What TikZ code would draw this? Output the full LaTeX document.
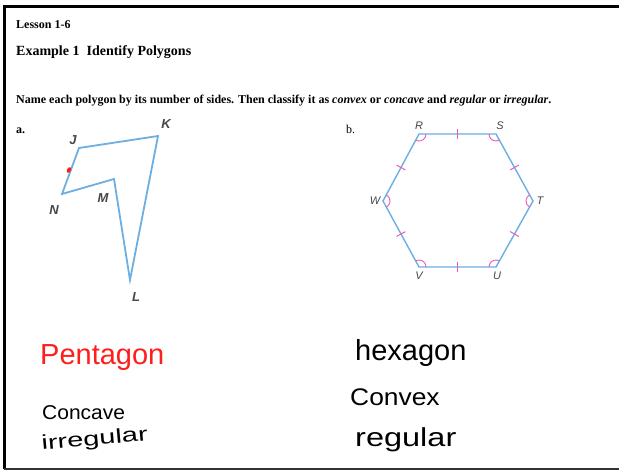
\documentclass[tikz,border=0pt]{standalone}
\usepackage{fontspec}
\usepackage{graphicx}
\setmainfont{Liberation Serif}
\setsansfont{Liberation Sans}
\usetikzlibrary{calc,angles}
\definecolor{polyblue}{RGB}{110,175,225}
\definecolor{markpink}{RGB}{236,90,190}
\definecolor{labgray}{RGB}{70,70,70}
\definecolor{inkred}{RGB}{255,30,30}
\tikzset{
  poly/.style={draw=polyblue, line width=1.8pt, line join=miter},
  tick/.style={draw=markpink, line width=1pt},
  angmark/.style={draw=markpink, line width=0.9pt, angle radius=7pt},
  alab/.style={font=\sffamily\bfseries\itshape\fontsize{13}{13}\selectfont, text=labgray, inner sep=0pt},
  blab/.style={font=\sffamily\itshape\fontsize{11}{11}\selectfont, text=labgray, inner sep=0pt},
  hand/.style={inner sep=0pt, anchor=base west},
  head/.style={inner sep=0pt, anchor=base west},
}
\begin{document}
\begin{tikzpicture}[x=1pt,y=1pt]
\useasboundingbox (0,0) rectangle (619,-471);
\fill[white] (0,0) rectangle (619,-471);
% frame
\draw[line width=3pt, black] (619,-6) -- (4,-6) -- (4,-469);
\draw[line width=2.5pt, black!80] (4,-469) -- (619,-469);
% headings
\node[head, font=\bfseries\fontsize{12}{12}\selectfont] (lesson) at (16,-28) {Lesson 1-6};
\node[head, font=\bfseries\fontsize{14}{14}\selectfont] (example) at (16,-55) {Example 1\ \ Identify Polygons};
\node[head, font=\bfseries\fontsize{12}{12}\selectfont] (instr) at (16,-103) {Name each polygon by its number of sides. Then classify it as \textit{convex} or \textit{concave} and \textit{regular} or \textit{irregular}.};
\node[head, font=\bfseries\fontsize{12}{12}\selectfont] (pa) at (16,-133) {a.};
\node[head, font=\fontsize{12}{12}\selectfont] (pb) at (346,-133) {b.};
% polygon a
\coordinate (J) at (79,-148);
\coordinate (K) at (158,-136);
\coordinate (L) at (130,-280);
\coordinate (M) at (114,-179);
\coordinate (N) at (62,-194);
\draw[poly] (J) -- (K) -- (L) -- (M) -- (N) -- cycle;
\fill[inkred, rotate around={60:(69,-170)}] (69,-170) ellipse (3pt and 2pt);
\node[alab] (lJ) at (73,-140) {J};
\node[alab] (lK) at (166,-124) {K};
\node[alab] (lN) at (54,-210) {N};
\node[alab] (lM) at (103,-198) {M};
\node[alab] (lL) at (136,-297) {L};
% polygon b
\coordinate (R) at (419,-134);
\coordinate (S) at (496,-134);
\coordinate (T) at (533,-201);
\coordinate (U) at (496,-267);
\coordinate (V) at (419,-267);
\coordinate (W) at (383,-201);
\draw[poly, line width=1.4pt] (R) -- (S) -- (T) -- (U) -- (V) -- (W) -- cycle;
\foreach \a/\b/\c in {W/R/S, R/S/T, S/T/U, T/U/V, U/V/W, V/W/R}{
  \pic[angmark] {angle=\a--\b--\c};
}
\foreach \a/\b in {R/S, S/T, T/U, U/V, V/W, W/R}{
  \coordinate (m\a\b) at ($(\a)!0.5!(\b)$);
  \draw[tick] ($(m\a\b)!5pt!90:(\b)$) -- ($(m\a\b)!5pt!-90:(\b)$);
}
\node[blab] (lR) at (419,-126) {R};
\node[blab] (lS) at (500,-126) {S};
\node[blab] (lT) at (540,-201) {T};
\node[blab] (lU) at (497,-276) {U};
\node[blab] (lV) at (419,-276) {V};
\node[blab] (lW) at (375,-201) {W};
% handwritten answers
\node[hand, text=inkred, font=\sffamily\fontsize{29}{29}\selectfont] (pent) at (40,-364) {Pentagon};
\node[hand, font=\sffamily\fontsize{20}{20}\selectfont] (conc) at (42,-419) {\scalebox{1.05}[1]{Concave}};
\node[hand, font=\sffamily\fontsize{20}{20}\selectfont, rotate=5] (irr) at (42,-450) {\scalebox{1.45}[1]{irregular}};
\node[hand, font=\sffamily\fontsize{29}{29}\selectfont] (hexa) at (355,-360) {hexagon};
\node[hand, font=\sffamily\fontsize{24}{24}\selectfont] (conv) at (350,-405) {\scalebox{1.1}[1]{Convex}};
\node[hand, font=\sffamily\fontsize{26}{26}\selectfont] (reg) at (355,-446) {\scalebox{1.25}[1]{regular}};
\end{tikzpicture}
\end{document}
